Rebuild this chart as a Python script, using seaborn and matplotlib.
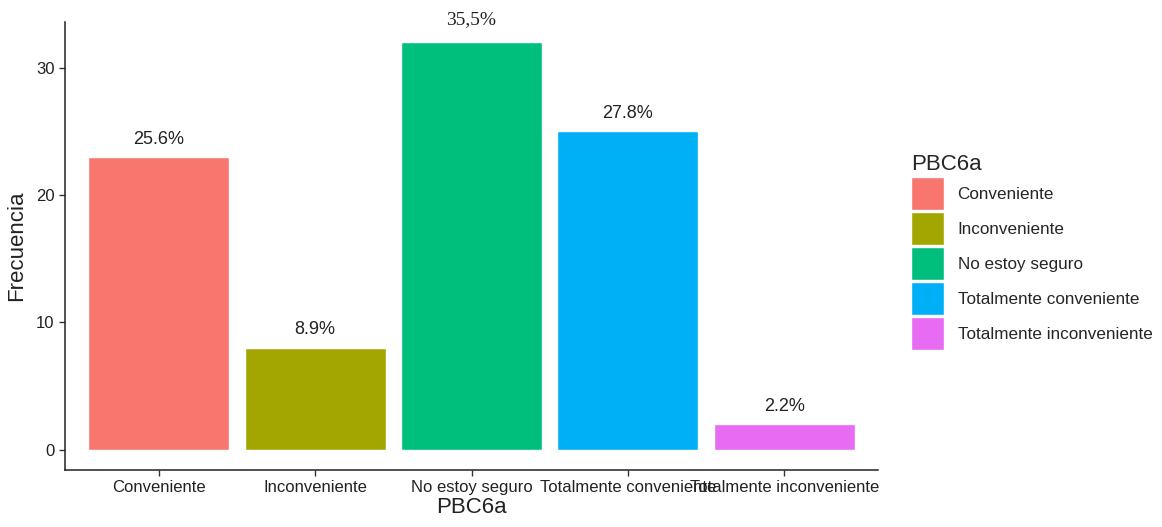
import numpy as np
import pandas as pd
import matplotlib
matplotlib.use("Agg")
import matplotlib.pyplot as plt
import seaborn as sns

categories = ["Conveniente", "Inconveniente", "No estoy seguro",
              "Totalmente conveniente", "Totalmente inconveniente"]
frecuencia = [23, 8, 32, 25, 2]
etiquetas = ["25.6%", "8.9%", "35,5%", "27.8%", "2.2%"]
colores = ["#F8766D", "#A3A500", "#00BF7D", "#00B0F6", "#E76BF3"]

df = pd.DataFrame({"PBC6a": categories, "Frecuencia": frecuencia})

sns.set_theme(style="ticks")
plt.rcParams["font.family"] = ["Liberation Sans", "DejaVu Sans"]

fig = plt.figure(figsize=(11.62, 5.27), dpi=100)
ax = fig.add_axes([65 / 1162, 1 - 470 / 527, (878 - 65) / 1162, (470 - 22) / 527])

sns.barplot(data=df, x="PBC6a", y="Frecuencia", hue="PBC6a", palette=colores,
            width=0.9, dodge=False, saturation=1, ax=ax, legend=True)

ax.set_xlim(-0.6, 4.6)
ax.set_ylim(-1.6, 33.6)
ax.set_yticks([0, 10, 20, 30])
ax.tick_params(axis="both", labelsize=12, colors="#333333", length=4, width=1)
ax.tick_params(axis="both", labelcolor="#222222")
ax.set_xlabel("PBC6a", fontsize=16, color="#222222", labelpad=1)
ax.set_ylabel("Frecuencia", fontsize=16, color="#222222", labelpad=6)
for s in ["top", "right"]:
    ax.spines[s].set_visible(False)
for s in ["left", "bottom"]:
    ax.spines[s].set_linewidth(1.1)
    ax.spines[s].set_color("#222222")

for i, (v, lab) in enumerate(zip(frecuencia, etiquetas)):
    if lab == "35,5%":
        ax.text(i, v + 1.8, lab, ha="center", va="center", fontsize=14,
                family="Liberation Serif", color="#222222", clip_on=False)
    else:
        ax.text(i, v + 1.4, lab, ha="center", va="center", fontsize=13,
                color="#222222", clip_on=False)

leg = ax.get_legend()
handles = leg.legend_handles
leg.remove()
fig.legend(handles, categories, title="PBC6a", loc="upper left",
           bbox_to_anchor=(896 / 1162, 1 - 139 / 527), frameon=False,
           fontsize=12.3, title_fontsize=16, handlelength=1.9, handleheight=2.65,
           handletextpad=0.8, labelspacing=0.08, alignment="left")

fig.savefig("out.png", dpi=100)
